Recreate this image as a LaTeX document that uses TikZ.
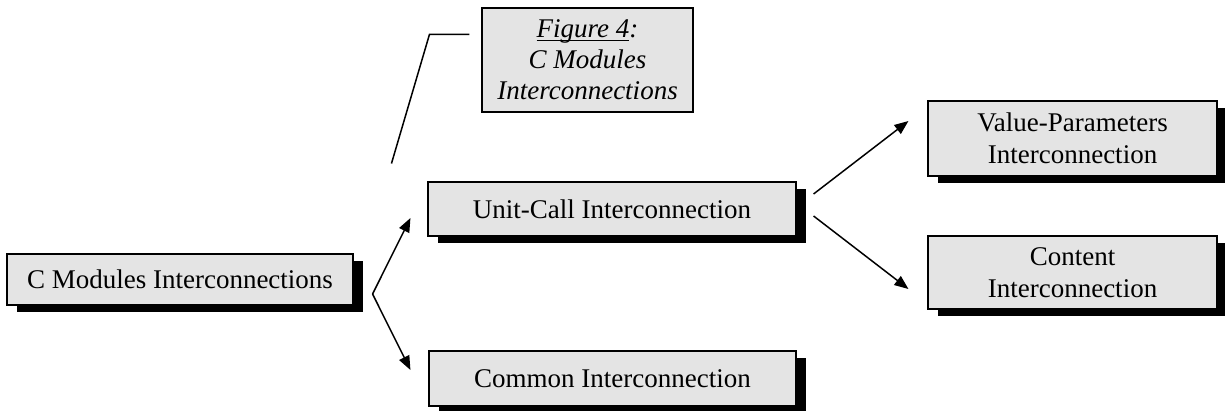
\documentclass[tikz,border=0pt]{standalone}
\usepackage{fontspec}
\setmainfont{Liberation Serif}
\usetikzlibrary{shadows,arrows.meta}
\definecolor{boxgray}{HTML}{E4E4E4}
\newcommand\ulfig[1]{\setbox0\hbox{#1}\rlap{\rule[-3pt]{\wd0}{1.1pt}}\box0}
\tikzset{
  box/.style={draw=black, line width=1.1pt, fill=boxgray, rectangle, inner sep=0pt,
    align=center, font=\fontsize{27pt}{32pt}\selectfont,
    drop shadow={shadow xshift=10pt, shadow yshift=-7pt, fill=black, opacity=1}},
  figbox/.style={draw=black, line width=1.1pt, fill=boxgray, rectangle, inner sep=0pt,
    align=center, font=\fontsize{27pt}{31pt}\selectfont\itshape},
  conn/.style={line width=1.5pt, -{Triangle[length=14pt,width=11pt]}},
  callout/.style={line width=1.5pt}
}
\begin{document}
\begin{tikzpicture}[x=1pt,y=-1pt]
\useasboundingbox (0,0) rectangle (1225,410);
\node[box, minimum width=346pt, minimum height=51pt] (main) at (180,279.5) {C Modules Interconnections};
\node[box, minimum width=368pt, minimum height=54pt] (unit) at (612,209) {Unit-Call Interconnection};
\node[box, minimum width=367pt, minimum height=55pt] (common) at (612.5,378.5) {Common Interconnection};
\node[box, minimum width=289pt, minimum height=75pt] (value) at (1072.5,138.5) {Value-Parameters\\Interconnection};
\node[box, minimum width=289pt, minimum height=73pt] (content) at (1072.5,272.5) {Content\\Interconnection};
\node[figbox, minimum width=211pt, minimum height=104pt] (fig) at (587.5,60) {\ulfig{Figure 4}:\\C Modules\\Interconnections};
% connectors
\coordinate (v) at ([xshift=19pt,yshift=-14.5pt]main.east);
\coordinate (u1) at ([xshift=17pt,yshift=15pt]unit.east);
\coordinate (u2) at ([xshift=17pt,yshift=-7pt]unit.east);
\draw[conn] (v) -- ([xshift=-17pt,yshift=-9pt]unit.west);
\draw[conn] (v) -- ([xshift=-18pt,yshift=8.5pt]common.west);
\draw[conn] (u1) -- ([xshift=-19pt,yshift=17.5pt]value.west);
\draw[conn] (u2) -- ([xshift=-19pt,yshift=-16.5pt]content.west);
% callout
\coordinate (c1) at ([xshift=-12pt,yshift=-27pt]fig.north west);
\coordinate (c2) at ([xshift=-52pt,yshift=-27pt]fig.north west);
\coordinate (c3) at ([xshift=-90pt,yshift=-51pt]fig.south west);
\draw[callout] (c1) -- (c2) -- (c3);
\end{tikzpicture}
\end{document}
